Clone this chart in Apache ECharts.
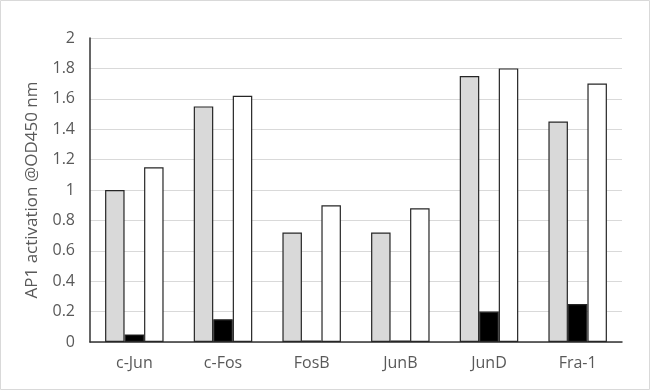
<!DOCTYPE html>
<html><head><meta charset="utf-8">
<script src="https://cdn.jsdelivr.net/npm/echarts@6/dist/echarts.min.js"></script>
<style>html,body{margin:0;padding:0;background:#fff}#c{width:650px;height:390px}</style>
</head><body><div id="c"></div>
<script>
const categories = ['c-Jun','c-Fos','FosB','JunB','JunD','Fra-1'];
const seriesGray = [1.00, 1.55, 0.72, 0.72, 1.75, 1.45];
const seriesBlack = [0.05, 0.15, 0.01, 0.01, 0.20, 0.25];
const seriesWhite = [1.15, 1.62, 0.90, 0.88, 1.80, 1.70];
const yTicks = ['0','0.2','0.4','0.6','0.8','1','1.2','1.4','1.6','1.8','2'];
const yName = 'AP1 activation @OD450 nm';

const chart = echarts.init(document.getElementById('c'), null, {renderer:'canvas'});
const font = '"Open Sans", "DejaVu Sans", sans-serif';
function bar(data, color){
  return {type:'bar', data, barWidth:19.5, barGap:'0%', barCategoryGap:'34%',
    itemStyle:{color, borderColor:'#262626', borderWidth:1.2}, silent:true};
}
chart.setOption({
  animation:false,
  graphic:[{type:'rect', shape:{x:0.5,y:0.5,width:649,height:389}, style:{fill:'none', stroke:'#d9d9d9', lineWidth:1}, silent:true}],
  grid:{left:90, right:28, top:38, bottom:48, containLabel:false},
  xAxis:{type:'category', data:categories,
    axisLine:{lineStyle:{color:'#333', width:1.5}}, axisTick:{show:false},
    axisLabel:{color:'#595959', fontSize:16, fontFamily:font, margin:13}},
  yAxis:{type:'value', min:0, max:2, interval:0.2,
    name:yName, nameLocation:'middle', nameGap:49, nameRotate:90,
    nameTextStyle:{color:'#595959', fontSize:17, fontFamily:font},
    axisLine:{show:true, lineStyle:{color:'#333', width:1.5}}, axisTick:{show:false},
    splitLine:{lineStyle:{color:'#d9d9d9', width:1}},
    axisLabel:{color:'#595959', fontSize:16, fontFamily:font, margin:15,
      formatter:(v)=>yTicks[Math.round(v/0.2)]}},
  series:[bar(seriesGray,'#d9d9d9'), bar(seriesBlack,'#000000'), bar(seriesWhite,'#ffffff')]
});
</script></body></html>
